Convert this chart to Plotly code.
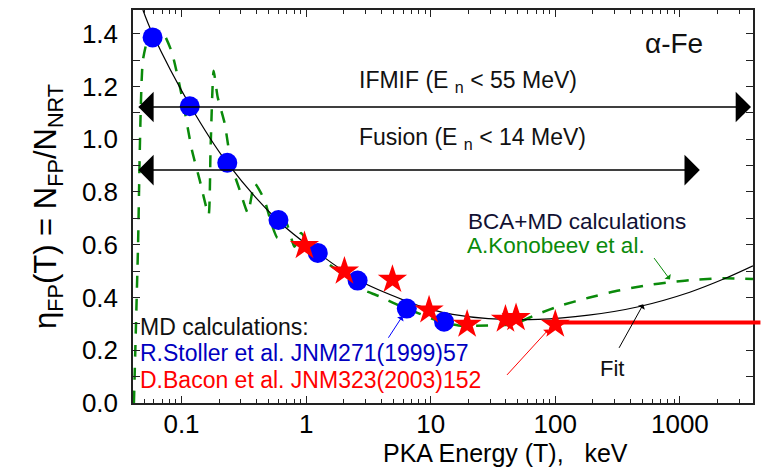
import numpy as np
import plotly.graph_objects as go

# ---------------- data ----------------
stoller_T = [0.0586, 0.1165, 0.233, 0.60, 1.24, 2.59, 6.43, 12.8]
stoller_eta = [1.386, 1.125, 0.911, 0.694, 0.569, 0.464, 0.358, 0.308]

bacon_T = [0.97, 2.03, 4.93, 9.7, 19.6, 39.8, 48.4, 100]
bacon_eta = [0.596, 0.499, 0.468, 0.352, 0.298, 0.317, 0.323, 0.298]
bacon_limit_T = 100
bacon_limit_eta = 0.305

fit_T = [0.049, 0.0586, 0.1165, 0.233, 0.60, 1.24, 2.59, 6.4, 10, 15, 29, 73,
         185, 465, 1200, 2300, 3857]
fit_eta = [1.49, 1.40, 1.13, 0.91, 0.69, 0.57, 0.467, 0.386, 0.355, 0.336,
           0.32, 0.317, 0.333, 0.365, 0.42, 0.472, 0.52]

konobeev_T = [0.0415, 0.0447, 0.049, 0.0557, 0.0695, 0.0836, 0.102, 0.121, 0.14,
              0.165, 0.171, 0.181, 0.195, 0.222, 0.252, 0.293, 0.341, 0.386,
              0.463, 0.525, 0.589, 0.692, 0.806, 0.912, 1.096, 1.318, 1.537,
              2.09, 2.67, 3.85, 5.55, 8.0, 11.6, 16.7, 29, 46, 71, 113, 185,
              302, 525, 857, 1400, 2290, 3857]
konobeev_eta = [0.0, 0.58, 1.30, 1.40, 1.41, 1.33, 1.15, 0.96, 0.845,
                0.713, 0.96, 1.26, 1.16, 1.06, 0.90, 0.808, 0.72, 0.833,
                0.77, 0.682, 0.626, 0.683, 0.592, 0.645, 0.581, 0.555, 0.525,
                0.479, 0.435, 0.405, 0.37, 0.34, 0.31, 0.294, 0.294, 0.298,
                0.336, 0.371, 0.399, 0.424, 0.445, 0.459, 0.468, 0.473, 0.47]

ifmif_span = [0.0438, 3720]
ifmif_eta = 1.122
fusion_span = [0.0438, 1445]
fusion_eta = 0.883

x_ticks = [0.1, 1, 10, 100, 1000]
x_tick_labels = ["0.1", "1", "10", "100", "1000"]
y_ticks = [0.0, 0.2, 0.4, 0.6, 0.8, 1.0, 1.2, 1.4]
y_tick_labels = ["0.0", "0.2", "0.4", "0.6", "0.8", "1.0", "1.2", "1.4"]

X_RANGE = [np.log10(0.0408), np.log10(3860)]
Y_RANGE = [0.0, 1.49]

FONT = "Arial, Liberation Sans, sans-serif"
GREEN = "#0a8a0a"

fig = go.Figure()

fig.add_trace(go.Scatter(x=konobeev_T, y=konobeev_eta, mode="lines",
                         line=dict(color=GREEN, width=2.5, dash="12px,11px",
                                   shape="spline", smoothing=0.5),
                         hoverinfo="skip"))
fig.add_trace(go.Scatter(x=fit_T, y=fit_eta, mode="lines",
                         line=dict(color="black", width=1.2, shape="spline",
                                   smoothing=1.0),
                         hoverinfo="skip"))
fig.add_trace(go.Scatter(x=stoller_T, y=stoller_eta, mode="markers",
                         marker=dict(symbol="circle", size=20, color="#0000ff",
                                     line=dict(width=0))))
fig.add_trace(go.Scatter(x=bacon_T, y=bacon_eta, mode="markers",
                         marker=dict(symbol="star", size=22, color="#ff0000",
                                     line=dict(width=0))))


def xfrac(v):
    return (np.log10(v) - X_RANGE[0]) / (X_RANGE[1] - X_RANGE[0])


def yfrac(v):
    return (v - Y_RANGE[0]) / (Y_RANGE[1] - Y_RANGE[0])


# red horizontal line (extends slightly past the right axis)
fig.add_shape(type="line", xref="paper", yref="paper",
              x0=xfrac(bacon_limit_T), x1=1.012,
              y0=yfrac(bacon_limit_eta), y1=yfrac(bacon_limit_eta),
              line=dict(color="#ff0000", width=4))

annotations = []
# double arrows
for span, eta in [(ifmif_span, ifmif_eta), (fusion_span, fusion_eta)]:
    annotations.append(dict(
        x=np.log10(span[1]), y=eta, ax=np.log10(span[0]), ay=eta,
        xref="x", yref="y", axref="x", ayref="y", text="", showarrow=True,
        arrowhead=1, startarrowhead=1, arrowside="end+start",
        arrowsize=3.4, startarrowsize=3.4, arrowwidth=1.5, arrowcolor="black",
        standoff=0, startstandoff=0))

# pointer arrows: (tip T, tip eta, tail dx px, tail dy px, color)
pointers = [(5.93, 0.329, -15, 23, "#0000ff"),
            (88.4, 0.279, -43, 47, "#ff0000"),
            (832, 0.468, -17, -23, GREEN),
            (508, 0.374, -25, 45, "black")]
for tx, ty, dx, dy, col in pointers:
    annotations.append(dict(x=np.log10(tx), y=ty, xref="x", yref="y",
                            ax=dx, ay=dy, text="", showarrow=True,
                            arrowhead=1, arrowsize=1.3, arrowwidth=1,
                            arrowcolor=col, standoff=0))


def txt(s, x, y, size=23, color="#111111", xanchor="center", yanchor="middle"):
    annotations.append(dict(text=s, x=x, y=y, xref="paper", yref="paper",
                            showarrow=False, xanchor=xanchor, yanchor=yanchor,
                            borderpad=0,
                            font=dict(family=FONT, size=size, color=color)))


txt("α-Fe", 0.873, 0.916, size=28)
txt("IFMIF (E <sub>n</sub> &lt; 55 MeV)", 0.540, 0.817)
txt("Fusion (E <sub>n</sub> &lt; 14 MeV)", 0.547, 0.674)
txt("BCA+MD calculations", 0.539, 0.463, xanchor="left", color="#111133", size=22.5)
txt("A.Konobeev et al.", 0.537, 0.400, xanchor="left", color=GREEN, size=22.5)
txt("MD calculations:", 0.009, 0.193, xanchor="left")
txt("R.Stoller et al. JNM271(1999)57", 0.009, 0.127, xanchor="left", color="#0000c0")
txt("D.Bacon et al. JNM323(2003)152", 0.009, 0.0585, xanchor="left", color="#ff0000")
txt("Fit", 0.772, 0.089, size=22)
txt("PKA Energy (T), &nbsp; keV", 0.60, -0.165, size=25, color="black",
    yanchor="bottom")

minor_x = [m * 10.0 ** d for d in range(-2, 4) for m in range(2, 10)]

fig.update_layout(
    width=762, height=470,
    margin=dict(l=133, r=7, t=10, b=67),
    paper_bgcolor="white", plot_bgcolor="white",
    showlegend=False,
    font=dict(family=FONT, color="black"),
    annotations=annotations,
    xaxis=dict(type="log", range=X_RANGE, tickmode="array", tickvals=x_ticks,
               ticktext=x_tick_labels, ticks="inside", ticklen=7, tickwidth=1,
               tickcolor="#222", showline=True, linecolor="#222", linewidth=1.5,
               mirror="ticks", showgrid=False, zeroline=False,
               ticklabelstandoff=-3,
               tickfont=dict(size=26, family=FONT, color="black"),
               minor=dict(tickmode="array", tickvals=minor_x, ticks="inside",
                          ticklen=4, tickcolor="#222", showgrid=False)),
    yaxis=dict(range=Y_RANGE, tickmode="array", tickvals=y_ticks,
               ticktext=y_tick_labels, ticks="inside", ticklen=7, tickwidth=1,
               tickcolor="#222", showline=True, linecolor="#222", linewidth=1.5,
               mirror="ticks", showgrid=False, zeroline=False,
               ticklabelstandoff=8,
               tickfont=dict(size=26, family=FONT, color="black"),
               minor=dict(dtick=0.1, ticks="inside", ticklen=7,
                          tickcolor="#222", showgrid=False),
               title=dict(text="η<sub>FP</sub>(T) = N<sub>FP</sub>/N<sub>NRT</sub>",
                          font=dict(size=31, family=FONT, color="black"),
                          standoff=16)),
)

fig.write_html("out.html")
